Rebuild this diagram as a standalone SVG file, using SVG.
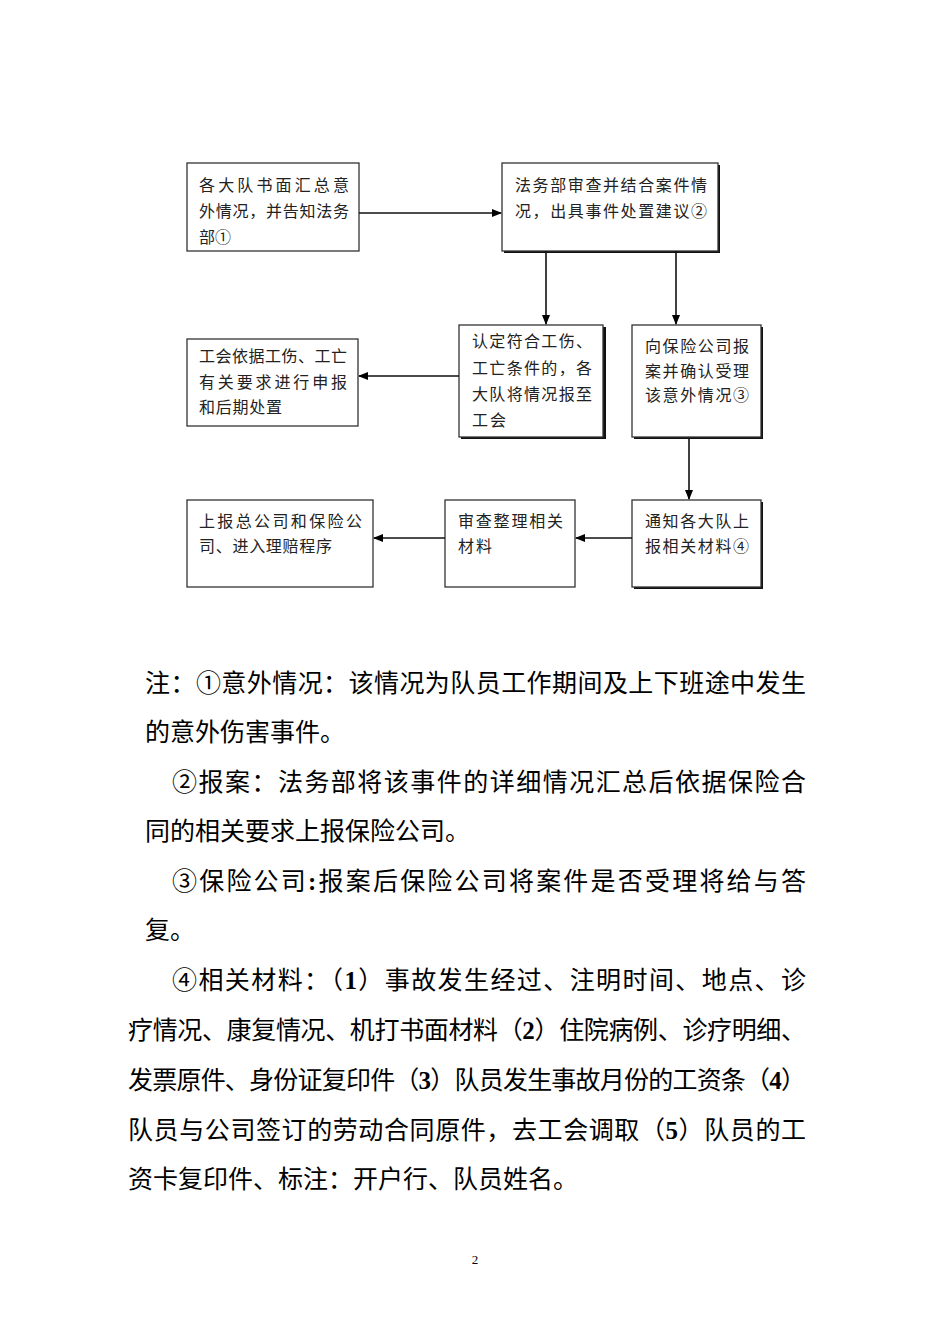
<svg xmlns="http://www.w3.org/2000/svg" width="950" height="1344" viewBox="0 0 950 1344">
<style>
.box{fill:#fff;stroke:#333;stroke-width:1.3}
.sh{fill:#111}
.bt{font-family:"Liberation Serif","Noto Sans CJK SC",serif;font-size:16px;fill:#222}
.nt{font-family:"Liberation Serif","Noto Sans CJK SC",serif;font-size:25px;fill:#000}
.conn{stroke:#111;stroke-width:1.6;fill:none;marker-end:url(#ah)}
.b{font-weight:bold}
</style>
<defs>
<marker id="ah" markerWidth="10" markerHeight="10" refX="9" refY="4" orient="auto" markerUnits="userSpaceOnUse">
<path d="M0,0 L10,4 L0,8 Z" fill="#000"/>
</marker>
</defs>
<rect width="950" height="1344" fill="#fff"/>

<g id="n1">
<rect class="box" x="187" y="163" width="172" height="88"/>
<text class="bt" x="199" y="191" textLength="150" lengthAdjust="spacing">各大队书面汇总意</text>
<text class="bt" x="199" y="217" textLength="150" lengthAdjust="spacing">外情况，并告知法务</text>
<text class="bt" x="199" y="243">部①</text>
</g>
<g id="n2">
<rect class="sh" x="504" y="165" width="216" height="88"/>
<rect class="box" x="502" y="163" width="216" height="88"/>
<text class="bt" x="515" y="191" textLength="192" lengthAdjust="spacing">法务部审查并结合案件情</text>
<text class="bt" x="515" y="217" textLength="192" lengthAdjust="spacing">况，出具事件处置建议②</text>
</g>
<g id="n3">
<rect class="box" x="187" y="339" width="171" height="87"/>
<text class="bt" x="199" y="362" textLength="148" lengthAdjust="spacing">工会依据工伤、工亡</text>
<text class="bt" x="199" y="388" textLength="148" lengthAdjust="spacing">有关要求进行申报</text>
<text class="bt" x="199" y="413" textLength="83" lengthAdjust="spacing">和后期处置</text>
</g>
<g id="n4">
<rect class="sh" x="461" y="327" width="145" height="112"/>
<rect class="box" x="459" y="325" width="144" height="112"/>
<text class="bt" x="472" y="347" textLength="120" lengthAdjust="spacing">认定符合工伤、</text>
<text class="bt" x="472" y="374" textLength="120" lengthAdjust="spacing">工亡条件的，各</text>
<text class="bt" x="472" y="400" textLength="120" lengthAdjust="spacing">大队将情况报至</text>
<text class="bt" x="472" y="426" textLength="34" lengthAdjust="spacing">工会</text>
</g>
<g id="n5">
<rect class="sh" x="634" y="327" width="129" height="112"/>
<rect class="box" x="632" y="325" width="129" height="112"/>
<text class="bt" x="645" y="352" textLength="104" lengthAdjust="spacing">向保险公司报</text>
<text class="bt" x="645" y="377" textLength="104" lengthAdjust="spacing">案并确认受理</text>
<text class="bt" x="645" y="401" textLength="104" lengthAdjust="spacing">该意外情况③</text>
</g>
<g id="n6">
<rect class="sh" x="634" y="502" width="129" height="87"/>
<rect class="box" x="632" y="500" width="129" height="87"/>
<text class="bt" x="645" y="527" textLength="104" lengthAdjust="spacing">通知各大队上</text>
<text class="bt" x="645" y="552" textLength="104" lengthAdjust="spacing">报相关材料④</text>
</g>
<g id="n7">
<rect class="box" x="445" y="500" width="130" height="87"/>
<text class="bt" x="458" y="527" textLength="105" lengthAdjust="spacing">审查整理相关</text>
<text class="bt" x="458" y="552" textLength="34" lengthAdjust="spacing">材料</text>
</g>
<g id="n8">
<rect class="box" x="187" y="500" width="186" height="87"/>
<text class="bt" x="199" y="527" textLength="163" lengthAdjust="spacing">上报总公司和保险公</text>
<text class="bt" x="199" y="552" textLength="133" lengthAdjust="spacing">司、进入理赔程序</text>
</g>

<g id="connectors">
<line class="conn" x1="359" y1="213" x2="501" y2="213"/>
<line class="conn" x1="546" y1="251" x2="546" y2="324"/>
<line class="conn" x1="676" y1="251" x2="676" y2="324"/>
<line class="conn" x1="459" y1="376" x2="359" y2="376"/>
<line class="conn" x1="689" y1="439" x2="689" y2="499"/>
<line class="conn" x1="632" y1="538" x2="576" y2="538"/>
<line class="conn" x1="445" y1="538" x2="374" y2="538"/>
</g>

<g id="notes">
<text class="nt" x="145" y="692" textLength="661" lengthAdjust="spacing">注：①意外情况：该情况为队员工作期间及上下班途中发生</text>
<text class="nt" x="145" y="741">的意外伤害事件。</text>
<text class="nt" x="172" y="791" textLength="634" lengthAdjust="spacing">②报案：法务部将该事件的详细情况汇总后依据保险合</text>
<text class="nt" x="145" y="840">同的相关要求上报保险公司。</text>
<text class="nt" x="172" y="890" textLength="634" lengthAdjust="spacing">③保险公司<tspan class="b">:</tspan>报案后保险公司将案件是否受理将给与答</text>
<text class="nt" x="145" y="939">复。</text>
<text class="nt" x="172" y="989" textLength="634" lengthAdjust="spacing">④相关材料：（<tspan class="b">1</tspan>）事故发生经过、注明时间、地点、诊</text>
<text class="nt" x="128" y="1039" textLength="678" lengthAdjust="spacing">疗情况、康复情况、机打书面材料（<tspan class="b">2</tspan>）住院病例、诊疗明细、</text>
<text class="nt" x="128" y="1089" textLength="678" lengthAdjust="spacing">发票原件、身份证复印件（<tspan class="b">3</tspan>）队员发生事故月份的工资条（<tspan class="b">4</tspan>）</text>
<text class="nt" x="128" y="1139" textLength="678" lengthAdjust="spacing">队员与公司签订的劳动合同原件，去工会调取（<tspan class="b">5</tspan>）队员的工</text>
<text class="nt" x="128" y="1188">资卡复印件、标注：开户行、队员姓名。</text>
</g>
<text x="475" y="1264" text-anchor="middle" font-family="Liberation Serif, serif" font-size="13" fill="#000">2</text>
</svg>
